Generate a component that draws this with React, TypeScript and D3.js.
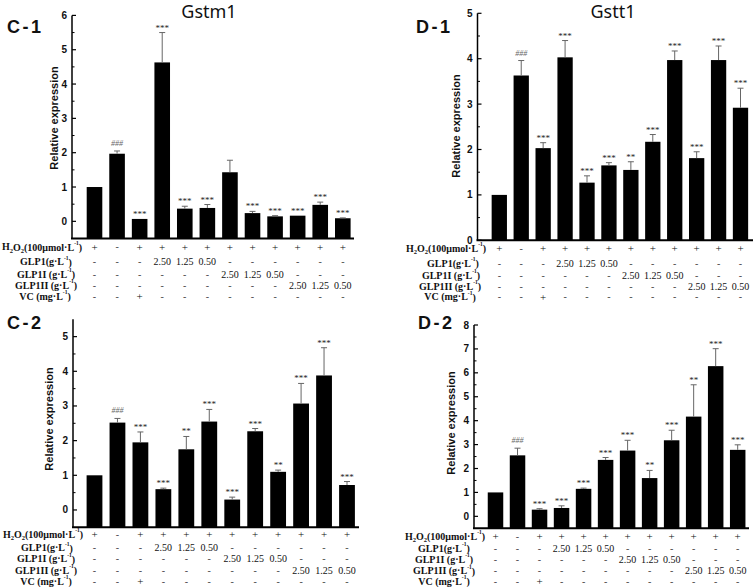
import React from "react";
import * as d3 from "d3";

// ---- table rows (treatment design) ----
const h2o2Row = ["+", "-", "+", "+", "+", "+", "+", "+", "+", "+", "+", "+"];
const glp1Row = ["-", "-", "-", "2.50", "1.25", "0.50", "-", "-", "-", "-", "-", "-"];
const glp1iRow = ["-", "-", "-", "-", "-", "-", "2.50", "1.25", "0.50", "-", "-", "-"];
const glp1iiRow = ["-", "-", "-", "-", "-", "-", "-", "-", "-", "2.50", "1.25", "0.50"];
const vcRow = ["-", "-", "+", "-", "-", "-", "-", "-", "-", "-", "-", "-"];

// ---- C-1 Gstm1 ----
const c1Values = [1.0, 1.97, 0.07, 4.63, 0.37, 0.39, 1.43, 0.24, 0.145, 0.165, 0.48, 0.09];
const c1Errors = [0, 0.08, 0, 0.87, 0.07, 0.1, 0.35, 0.05, 0.02, 0.0, 0.08, 0.01];
const c1Marks = ["", "###", "***", "***", "***", "***", "", "***", "***", "***", "***", "***"];
const c1Ticks = [0, 1, 2, 3, 4, 5, 6];

// ---- C-2 ----
const c2Values = [1.0, 2.52, 1.95, 0.6, 1.75, 2.55, 0.3, 2.27, 1.1, 3.07, 3.88, 0.72];
const c2Errors = [0, 0.12, 0.3, 0.03, 0.37, 0.35, 0.07, 0.08, 0.05, 0.58, 0.8, 0.1];
const c2Marks = ["", "###", "***", "***", "**", "***", "***", "***", "**", "***", "***", "***"];
const c2Ticks = [0, 1, 2, 3, 4, 5];

// ---- D-1 Gstt1 ----
const d1Values = [1.0, 3.63, 2.03, 4.03, 1.27, 1.65, 1.55, 2.17, 3.97, 1.81, 3.97, 2.92];
const d1Errors = [0, 0.33, 0.12, 0.37, 0.15, 0.06, 0.18, 0.16, 0.2, 0.14, 0.31, 0.43];
const d1Marks = ["", "###", "***", "***", "***", "***", "**", "***", "***", "***", "***", "***"];
const d1Ticks = [0, 1, 2, 3, 4, 5];

// ---- D-2 ----
const d2Values = [1.0, 2.55, 0.28, 0.35, 1.15, 2.36, 2.75, 1.6, 3.18, 4.17, 6.28, 2.78];
const d2Errors = [0, 0.3, 0.04, 0.09, 0.03, 0.1, 0.43, 0.32, 0.42, 1.33, 0.73, 0.21];
const d2Marks = ["", "###", "***", "***", "***", "***", "***", "**", "***", "**", "***", "***"];
const d2Ticks = [0, 1, 2, 3, 4, 5, 6, 7, 8];

const serif = "'Liberation Serif', 'Times New Roman', serif";
const sans = "'Liberation Sans', Arial, sans-serif";

type Cfg = {
  axisX: number;
  domain: [number, number];
  yBottom: number;
  yTop: number;
  firstC: number;
  lastC: number;
  xEnd: number;
  barW: number;
  rowY: number[];
  labelCx: number[];
  ylabelX: number;
  ylabelY: number;
  tag: string;
  tagX: number;
  tagY: number;
  title?: string;
  titleX?: number;
};

function RowLabel({ idx, x, y }: { idx: number; x: number; y: number }) {
  const common = {
    x,
    y,
    textAnchor: "middle" as const,
    dominantBaseline: "central" as const,
    fontFamily: serif,
    fontWeight: "bold" as const,
    fontSize: 10,
    fill: "#111",
  };
  const sup = (t: string) => (
    <>
      <tspan dy={-4} fontSize={5.5}>{t}</tspan>
      <tspan dy={4}>)</tspan>
    </>
  );
  if (idx === 0)
    return (
      <text {...common}>
        H<tspan dy={3} fontSize={6.5}>2</tspan>
        <tspan dy={-3}>O</tspan>
        <tspan dy={3} fontSize={6.5}>2</tspan>
        <tspan dy={-3}>(100μmol·L</tspan>
        {sup("-1")}
      </text>
    );
  if (idx === 1) return <text {...common}>GLP1(g·L{sup("-1")}</text>;
  if (idx === 2) return <text {...common}>GLP1I (g·L{sup("-1")}</text>;
  if (idx === 3) return <text {...common}>GLP1II (g·L{sup("-1")}</text>;
  return <text {...common}>VC (mg·L{sup("-1")}</text>;
}

function Panel({
  cfg,
  values,
  errors,
  marks,
  ticks,
}: {
  cfg: Cfg;
  values: number[];
  errors: number[];
  marks: string[];
  ticks: number[];
}) {
  const n = values.length;
  const step = (cfg.lastC - cfg.firstC) / (n - 1);
  const pad = 1 - cfg.barW / step;
  const x = d3
    .scaleBand<number>()
    .domain(d3.range(n))
    .range([cfg.firstC - step / 2, cfg.lastC + step / 2])
    .paddingInner(pad)
    .paddingOuter(pad / 2);
  const y = d3.scaleLinear().domain(cfg.domain).range([cfg.yBottom, cfg.yTop]);
  const minors = d3
    .range(cfg.domain[0] + 0.5, cfg.domain[1], 0.5)
    .filter((v) => Math.abs(v - Math.round(v)) > 0.01);
  const base = y(cfg.domain[0]);
  const rows = [h2o2Row, glp1Row, glp1iRow, glp1iiRow, vcRow];
  const cx = (i: number) => x(i)! + x.bandwidth() / 2;

  return (
    <g>
      {values.map((v, i) => (
        <rect key={"b" + i} x={x(i)} y={y(v)} width={x.bandwidth()} height={base - y(v)} fill="#000" />
      ))}
      {values.map((v, i) =>
        errors[i] > 0 ? (
          <g key={"e" + i} stroke="#666" strokeWidth={1}>
            <line x1={cx(i)} x2={cx(i)} y1={y(v)} y2={y(v + errors[i])} />
            <line x1={cx(i) - 3} x2={cx(i) + 3} y1={y(v + errors[i])} y2={y(v + errors[i])} />
          </g>
        ) : null
      )}
      {values.map((v, i) =>
        marks[i] ? (
          <text
            key={"m" + i}
            x={cx(i)}
            y={y(v + errors[i]) - (marks[i][0] === "#" ? 5 : 2)}
            textAnchor="middle"
            fontFamily={serif}
            fontSize={marks[i][0] === "#" ? 8 : 9}
            fontStyle={marks[i][0] === "#" ? "italic" : "normal"}
            fill={marks[i][0] === "#" ? "#666" : "#222"}
          >
            {marks[i]}
          </text>
        ) : null
      )}
      <line x1={cfg.axisX} x2={cfg.axisX} y1={base} y2={y(cfg.domain[1])} stroke="#000" strokeWidth={1.5} />
      {ticks.map((t) => (
        <g key={"t" + t}>
          <line x1={cfg.axisX} x2={cfg.axisX + 4} y1={y(t)} y2={y(t)} stroke="#000" strokeWidth={1.2} />
          <text
            x={cfg.axisX - 5}
            y={y(t)}
            textAnchor="end"
            dominantBaseline="central"
            fontFamily={sans}
            fontWeight="bold"
            fontSize={10}
            fill="#111"
          >
            {t}
          </text>
        </g>
      ))}
      {minors.map((t) => (
        <line key={"mn" + t} x1={cfg.axisX} x2={cfg.axisX + 2.5} y1={y(t)} y2={y(t)} stroke="#000" strokeWidth={1} />
      ))}
      <line x1={cfg.axisX - 1} x2={cfg.xEnd} y1={base} y2={base} stroke="#000" strokeWidth={2} />
      <text
        transform={`translate(${cfg.ylabelX},${cfg.ylabelY}) rotate(-90)`}
        textAnchor="middle"
        dominantBaseline="central"
        fontFamily={sans}
        fontWeight="bold"
        fontSize={11}
        fill="#111"
      >
        Relative expression
      </text>
      <text
        x={cfg.tagX}
        y={cfg.tagY}
        dominantBaseline="central"
        fontFamily={sans}
        fontWeight="bold"
        fontSize={18}
        letterSpacing={2.5}
        fill="#111"
      >
        {cfg.tag}
      </text>
      {cfg.title ? (
        <text
          x={cfg.titleX}
          y={11}
          textAnchor="middle"
          dominantBaseline="central"
          fontFamily="'Noto Sans', sans-serif"
          fontSize={18}
          fill="#111"
        >
          {cfg.title}
        </text>
      ) : null}
      {rows.map((row, r) => (
        <g key={"r" + r}>
          <RowLabel idx={r} x={cfg.labelCx[r]} y={cfg.rowY[r]} />
          {row.map((c, i) => (
            <text
              key={"c" + i}
              x={cx(i)}
              y={cfg.rowY[r]}
              textAnchor="middle"
              dominantBaseline="central"
              fontFamily={serif}
              fontSize={c === "+" ? 11 : 10}
              fill={c === "-" ? "#444" : "#111"}
            >
              {c}
            </text>
          ))}
        </g>
      ))}
    </g>
  );
}

const cfgC1: Cfg = {
  axisX: 72, domain: [-0.5, 6], yBottom: 238.5, yTop: 15.4,
  firstC: 94.5, lastC: 342.8, xEnd: 354, barW: 15.6,
  rowY: [246.7, 261.7, 274, 285, 296],
  labelCx: [42, 46, 46, 46, 45],
  ylabelX: 54, ylabelY: 118,
  tag: "C-1", tagX: 7, tagY: 27, title: "Gstm1", titleX: 209,
};
const cfgC2: Cfg = {
  axisX: 73, domain: [-0.5, 5.5], yBottom: 527.3, yTop: 319.3,
  firstC: 94.5, lastC: 347, xEnd: 359, barW: 15.8,
  rowY: [534.3, 547.7, 558.7, 570, 581],
  labelCx: [43, 47, 46, 46, 46],
  ylabelX: 49, ylabelY: 419,
  tag: "C-2", tagX: 7, tagY: 323,
};
const cfgD1: Cfg = {
  axisX: 477.5, domain: [0, 5], yBottom: 240.3, yTop: 13.3,
  firstC: 499.3, lastC: 740.5, xEnd: 753, barW: 15.3,
  rowY: [248.3, 263.3, 275, 286, 296.7],
  labelCx: [446, 453, 451, 450, 450],
  ylabelX: 456, ylabelY: 126,
  tag: "D-1", tagX: 416, tagY: 27, title: "Gstt1", titleX: 613,
};
const cfgD2: Cfg = {
  axisX: 474, domain: [-0.5, 8], yBottom: 528.3, yTop: 325,
  firstC: 495.5, lastC: 737.7, xEnd: 749, barW: 15.5,
  rowY: [536, 548, 559, 570.5, 581],
  labelCx: [445, 444, 444, 444, 444],
  ylabelX: 451, ylabelY: 423,
  tag: "D-2", tagX: 418, tagY: 323,
};

export default function App() {
  return (
    <div style={{ position: "fixed", left: 0, top: 0 }}>
      <svg width={753} height={587} style={{ display: "block", background: "#fff" }}>
        <rect width={753} height={587} fill="#fff" />
        <Panel cfg={cfgC1} values={c1Values} errors={c1Errors} marks={c1Marks} ticks={c1Ticks} />
        <Panel cfg={cfgC2} values={c2Values} errors={c2Errors} marks={c2Marks} ticks={c2Ticks} />
        <Panel cfg={cfgD1} values={d1Values} errors={d1Errors} marks={d1Marks} ticks={d1Ticks} />
        <Panel cfg={cfgD2} values={d2Values} errors={d2Errors} marks={d2Marks} ticks={d2Ticks} />
      </svg>
    </div>
  );
}
